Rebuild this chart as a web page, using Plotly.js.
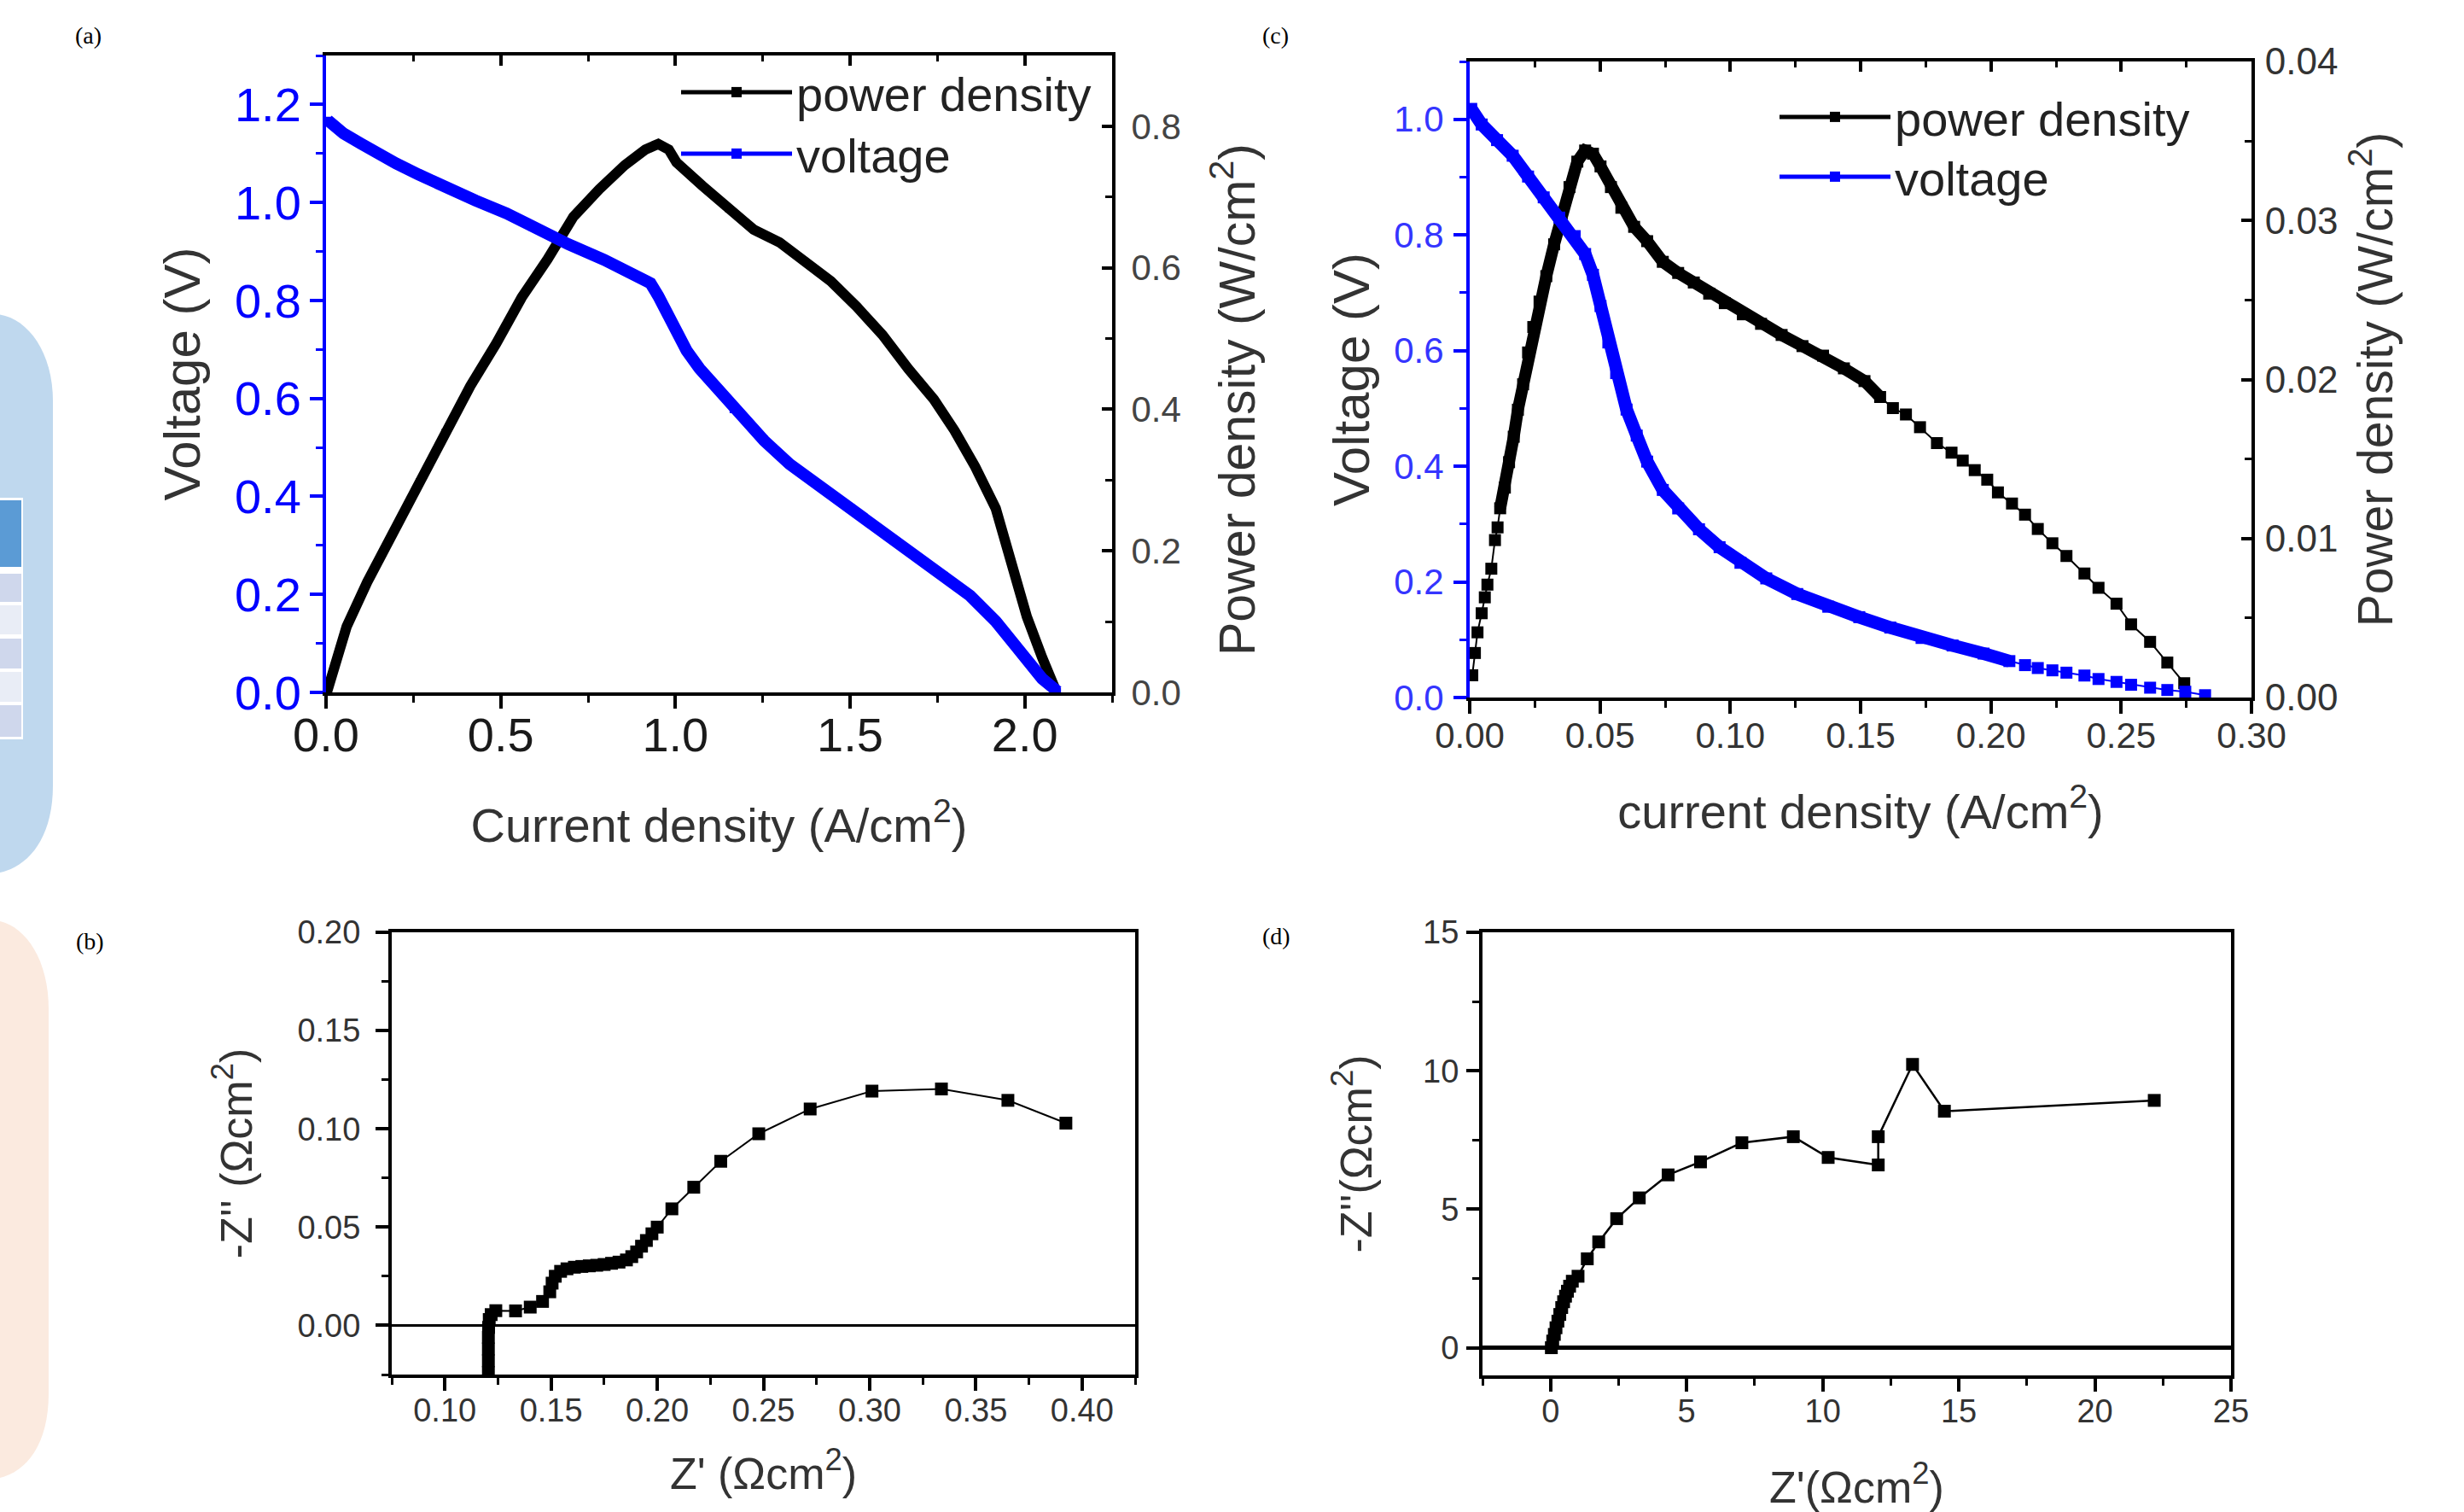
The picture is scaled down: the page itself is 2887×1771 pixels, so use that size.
<!DOCTYPE html>
<html><head><meta charset="utf-8">
<script src="https://cdn.plot.ly/plotly-3.0.1.min.js"></script>
<style>html,body{margin:0;padding:0;background:#fff}#chart{width:2887px;height:1771px}</style>
</head><body><div id="chart"></div>
<script>
// ---------- (a) polarization curve, cell 1 ----------
const aPowX = [0.003, 0.059, 0.118, 0.192, 0.265, 0.339, 0.413, 0.487, 0.560, 0.634, 0.708, 0.782, 0.855, 0.914, 0.951, 0.981, 1.003, 1.077, 1.150, 1.224, 1.298, 1.372, 1.445, 1.519, 1.593, 1.667, 1.740, 1.799, 1.858, 1.917, 1.962, 2.006, 2.050, 2.087];
const aPowY = [0.001, 0.093, 0.156, 0.227, 0.298, 0.368, 0.433, 0.493, 0.558, 0.612, 0.672, 0.711, 0.745, 0.767, 0.775, 0.767, 0.749, 0.716, 0.683, 0.654, 0.636, 0.610, 0.581, 0.545, 0.505, 0.457, 0.414, 0.370, 0.319, 0.260, 0.187, 0.107, 0.049, 0.005];
const aVoltX = [0.005, 0.050, 0.100, 0.147, 0.200, 0.265, 0.339, 0.428, 0.516, 0.590, 0.693, 0.796, 0.885, 0.929, 0.951, 0.973, 1.003, 1.032, 1.069, 1.121, 1.165, 1.254, 1.327, 1.416, 1.504, 1.593, 1.681, 1.770, 1.844, 1.917, 1.991, 2.050, 2.094];
const aVoltY = [1.168, 1.141, 1.120, 1.099, 1.080, 1.057, 1.031, 1.004, 0.978, 0.949, 0.915, 0.883, 0.851, 0.835, 0.809, 0.777, 0.735, 0.698, 0.661, 0.619, 0.577, 0.514, 0.466, 0.419, 0.377, 0.329, 0.282, 0.239, 0.197, 0.145, 0.081, 0.028, 0.002];

// ---------- (c) polarization curve, cell 2 ----------
const cPowX = [0.0010, 0.0020, 0.0030, 0.0046, 0.0058, 0.0068, 0.0083, 0.0097, 0.0107, 0.0117, 0.0135, 0.0151, 0.0169, 0.0185, 0.0205, 0.0224, 0.0244, 0.0268, 0.0294, 0.0324, 0.0353, 0.0383, 0.0413, 0.0443, 0.0473, 0.0502, 0.0542, 0.0582, 0.0631, 0.0681, 0.0741, 0.0800, 0.0860, 0.0919, 0.0979, 0.1048, 0.1118, 0.1197, 0.1277, 0.1356, 0.1436, 0.1515, 0.1575, 0.1624, 0.1674, 0.1728, 0.1793, 0.1849, 0.1892, 0.1938, 0.1986, 0.2027, 0.2081, 0.2131, 0.2180, 0.2236, 0.2290, 0.2359, 0.2413, 0.2482, 0.2538, 0.2611, 0.2677, 0.2742];
const cPowY = [0.0014, 0.0028, 0.0041, 0.0053, 0.0063, 0.0071, 0.0081, 0.0099, 0.0107, 0.0119, 0.0132, 0.0148, 0.0164, 0.0181, 0.0197, 0.0217, 0.0233, 0.0249, 0.0265, 0.0285, 0.0301, 0.0321, 0.0337, 0.0344, 0.0342, 0.0334, 0.0321, 0.0308, 0.0296, 0.0287, 0.0274, 0.0267, 0.0261, 0.0254, 0.0248, 0.0241, 0.0235, 0.0228, 0.0221, 0.0215, 0.0207, 0.0199, 0.0189, 0.0182, 0.0178, 0.0170, 0.0160, 0.0154, 0.0149, 0.0143, 0.0137, 0.0129, 0.0122, 0.0115, 0.0106, 0.0097, 0.0089, 0.0078, 0.0069, 0.0059, 0.0046, 0.0035, 0.0022, 0.0009];
const cVoltX = [0.0006, 0.0046, 0.0105, 0.0165, 0.0224, 0.0284, 0.0344, 0.0403, 0.0443, 0.0473, 0.0502, 0.0532, 0.0562, 0.0602, 0.0641, 0.0681, 0.0741, 0.0800, 0.0880, 0.0959, 0.1039, 0.1138, 0.1257, 0.1376, 0.1495, 0.1614, 0.1734, 0.1853, 0.1972, 0.2071, 0.2131, 0.2180, 0.2236, 0.2290, 0.2359, 0.2413, 0.2482, 0.2538, 0.2611, 0.2677, 0.2746, 0.2822];
const cVoltY = [1.018, 0.991, 0.964, 0.937, 0.901, 0.865, 0.830, 0.798, 0.767, 0.731, 0.677, 0.614, 0.561, 0.498, 0.453, 0.408, 0.359, 0.327, 0.291, 0.260, 0.233, 0.206, 0.179, 0.157, 0.139, 0.121, 0.103, 0.090, 0.076, 0.063, 0.056, 0.051, 0.047, 0.043, 0.038, 0.032, 0.027, 0.022, 0.017, 0.013, 0.010, 0.004];

// ---------- (b) impedance, cell 1 ----------
const bReX = [0.1205, 0.1205, 0.1205, 0.1205, 0.1205, 0.1206, 0.1209, 0.1218, 0.1240, 0.1333, 0.1402, 0.1460, 0.1494, 0.1505, 0.1520, 0.1545, 0.1575, 0.1610, 0.1645, 0.1680, 0.1715, 0.1750, 0.1785, 0.1820, 0.1855, 0.1880, 0.1903, 0.1926, 0.1949, 0.1975, 0.2000, 0.2069, 0.2172, 0.2299, 0.2478, 0.2720, 0.3011, 0.3338, 0.3651, 0.3924];
const bImY = [-0.030, -0.024, -0.018, -0.012, -0.006, -0.001, 0.003, 0.0055, 0.0075, 0.0074, 0.0093, 0.0122, 0.0171, 0.0215, 0.0250, 0.0275, 0.0288, 0.0296, 0.0300, 0.0303, 0.0306, 0.0310, 0.0316, 0.0322, 0.0333, 0.0350, 0.0374, 0.0403, 0.0432, 0.0466, 0.0500, 0.0593, 0.0703, 0.0835, 0.0975, 0.1101, 0.1192, 0.1203, 0.1145, 0.1029];

// ---------- (d) impedance, cell 2 ----------
const dReX = [0.03, 0.08, 0.14, 0.20, 0.27, 0.34, 0.41, 0.48, 0.55, 0.62, 0.70, 0.80, 1.01, 1.35, 1.77, 2.43, 3.26, 4.32, 5.51, 7.03, 8.92, 10.20, 12.04, 12.04, 13.30, 14.47, 22.18];
const dImY = [0.00, 0.24, 0.48, 0.72, 0.96, 1.20, 1.45, 1.66, 1.86, 2.04, 2.22, 2.40, 2.58, 3.21, 3.82, 4.66, 5.41, 6.24, 6.71, 7.40, 7.62, 6.87, 6.60, 7.62, 10.23, 8.54, 8.93];

// ---------- labels ----------
const panelLabels = ['(a)', '(b)', '(c)', '(d)'];
const seriesNames = ['power density', 'voltage'];

// ---------- layout helpers ----------
const W = 2887, H = 1771;
const px = v => v / W, py = v => 1 - v / H;
const FONT = 'Liberation Sans, Arial, sans-serif';
const BLUE = '#0000ff';

function inRange(xs, ys, lo, hi) {
  const X = [], Y = [];
  xs.forEach((v, i) => { if (v >= lo && v <= hi) { X.push(v); Y.push(ys[i]); } });
  return {x: X, y: Y};
}

function ax(o) {
  const base = {
    showgrid: false, zeroline: false, showline: true, linecolor: '#000', linewidth: 4,
    ticks: 'outside', ticklen: 15, tickwidth: 4, tickcolor: '#000',
    tickfont: {family: FONT, size: 56, color: '#1a1a1a'},
    fixedrange: true
  };
  return Object.assign(base, o);
}
function minor(dtick, color, ticks) {
  return {dtick: dtick, ticks: ticks || 'outside', ticklen: 8, tickwidth: 3, tickcolor: color || '#000'};
}
function ttl(text, size, standoff) {
  return {text: text, font: {family: FONT, size: size, color: '#333'}, standoff: standoff};
}
function leg(xLeft, yTop) {
  return {x: px(xLeft), y: py(yTop), xanchor: 'left', yanchor: 'top', bgcolor: 'rgba(0,0,0,0)', borderwidth: 0,
    font: {family: FONT, size: 56, color: '#222'}, itemwidth: 130, itemsizing: 'constant'};
}
// top frame ticks pointing into the plot (mirror of the bottom axis)
function topTicks(over, anchor, range, dtick, mdtick, fmt) {
  return {overlaying: over, anchor: anchor, side: 'top', range: range, dtick: dtick, tickformat: fmt,
    showline: false, showgrid: false, zeroline: false, showticklabels: false,
    ticks: 'inside', ticklen: 12, tickwidth: 4, tickcolor: '#000',
    minor: {dtick: mdtick, ticks: 'inside', ticklen: 7, tickwidth: 3, tickcolor: '#000'}, fixedrange: true};
}

const traces = [];
// (a)
traces.push({x: aPowX, y: aPowY, xaxis: 'x', yaxis: 'y2', mode: 'lines', line: {color: '#000', width: 12},
  showlegend: false, legendgroup: 'ap', hoverinfo: 'skip'});
traces.push({x: aPowX, y: aPowY, xaxis: 'x', yaxis: 'y2', mode: 'lines+markers', name: seriesNames[0],
  line: {color: '#000', width: 3}, marker: {symbol: 'square', size: 7, color: '#000'},
  legend: 'legend', legendgroup: 'ap'});
traces.push({x: aVoltX, y: aVoltY, xaxis: 'x5', yaxis: 'y', mode: 'lines', line: {color: BLUE, width: 14},
  showlegend: false, legendgroup: 'av', hoverinfo: 'skip'});
traces.push({x: aVoltX, y: aVoltY, xaxis: 'x5', yaxis: 'y', mode: 'lines+markers', name: seriesNames[1],
  line: {color: BLUE, width: 3}, marker: {symbol: 'square', size: 8, color: BLUE},
  legend: 'legend2', legendgroup: 'av'});
// (c)
const cPowDense = inRange(cPowX, cPowY, 0.011, 0.158);
const cVoltDense = inRange(cVoltX, cVoltY, 0, 0.2075);
traces.push({x: cPowDense.x, y: cPowDense.y, xaxis: 'x2', yaxis: 'y4', mode: 'lines', line: {color: '#000', width: 14},
  showlegend: false, legendgroup: 'cp', hoverinfo: 'skip'});
traces.push({x: cPowX, y: cPowY, xaxis: 'x2', yaxis: 'y4', mode: 'lines+markers', name: seriesNames[0],
  line: {color: '#000', width: 2}, marker: {symbol: 'square', size: 14, color: '#000'},
  legend: 'legend3', legendgroup: 'cp'});
traces.push({x: cVoltDense.x, y: cVoltDense.y, xaxis: 'x6', yaxis: 'y3', mode: 'lines', line: {color: BLUE, width: 15},
  showlegend: false, legendgroup: 'cv', hoverinfo: 'skip'});
traces.push({x: cVoltX, y: cVoltY, xaxis: 'x6', yaxis: 'y3', mode: 'lines+markers', name: seriesNames[1],
  line: {color: BLUE, width: 2}, marker: {symbol: 'square', size: 14, color: BLUE},
  legend: 'legend4', legendgroup: 'cv'});
// (b)
traces.push({x: bReX, y: bImY, xaxis: 'x3', yaxis: 'y5', mode: 'lines+markers', showlegend: false,
  line: {color: '#000', width: 2}, marker: {symbol: 'square', size: 15, color: '#000'}});
// (d)
traces.push({x: dReX, y: dImY, xaxis: 'x4', yaxis: 'y6', mode: 'lines+markers', showlegend: false,
  line: {color: '#000', width: 2.5}, marker: {symbol: 'square', size: 15, color: '#000'}});

// decorative page fragments at the left edge (parts of the surrounding page)
function pathPx(cmds) {
  return cmds.map(c => typeof c === 'string' ? c : (px(c[0]).toFixed(5) + ',' + py(c[1]).toFixed(5))).join(' ');
}
const shapes = [
  {type: 'path', xref: 'paper', yref: 'paper', layer: 'below', line: {width: 0}, fillcolor: '#bfd8ee',
   path: pathPx(['M', [-5, 368], 'C', [30, 370], [62, 410], [62, 470], 'L', [62, 920], 'C', [62, 985], [30, 1018], [-5, 1023], 'Z'])},
  {type: 'path', xref: 'paper', yref: 'paper', layer: 'below', line: {width: 0}, fillcolor: '#fbeadf',
   path: pathPx(['M', [-5, 1078], 'C', [28, 1082], [57, 1122], [57, 1182], 'L', [57, 1632], 'C', [57, 1695], [28, 1727], [-5, 1732], 'Z'])}
];
const rows = [[583, 866, '#ffffff'], [586, 664, '#5b9bd5'], [672, 705, '#cfd7ec'], [709, 743, '#e9edf6'], [748, 783, '#cfd7ec'], [787, 822, '#e9edf6'], [826, 863, '#cfd7ec']];
rows.forEach((r, i) => shapes.push({type: 'rect', xref: 'paper', yref: 'paper', layer: 'below', line: {width: 0},
  fillcolor: r[2], x0: px(-2), x1: px(i === 0 ? 27 : 25), y0: py(r[1]), y1: py(r[0])}));

const labelPos = [[86, 42], [87, 1102], [1477, 42], [1477, 1096]];
const annotations = panelLabels.map((t, i) => ({
  text: t, xref: 'paper', yref: 'paper', x: px(labelPos[i][0]), y: py(labelPos[i][1]),
  xanchor: 'left', yanchor: 'middle', showarrow: false,
  font: {family: 'Liberation Serif, Times New Roman, serif', size: 28, color: '#000'}
}));
// right-hand title of panel (a), placed slightly below the axis centre as in the original
annotations.push({text: 'Power density (W/cm<sup>2</sup>)', xref: 'paper', yref: 'paper',
  x: px(1446), y: py(468), xanchor: 'center', yanchor: 'middle', textangle: -90, showarrow: false,
  font: {family: FONT, size: 59, color: '#333'}});

const layout = {
  width: W, height: H, margin: {l: 0, r: 0, t: 0, b: 0},
  paper_bgcolor: '#fff', plot_bgcolor: 'rgba(0,0,0,0)',
  font: {family: FONT, color: '#222'},
  showlegend: true,
  // (a)
  xaxis: ax({domain: [px(382), px(1303)], anchor: 'y', range: [0, 2.25], dtick: 0.5, tickformat: '.1f',
    mirror: true, minor: minor(0.25), ticklabelstandoff: -17,
    title: ttl('Current density (A/cm<sup>2</sup>)', 56, 57)}),
  yaxis: ax({domain: [py(811), py(65)], anchor: 'x', range: [0, 1.3], dtick: 0.2, tickformat: '.1f',
    linecolor: BLUE, tickcolor: BLUE, minor: minor(0.1, BLUE), ticklabelstandoff: -1,
    tickfont: {family: FONT, size: 56, color: BLUE},
    title: ttl('Voltage (V)', 60, 22)}),
  yaxis2: ax({overlaying: 'y', side: 'right', anchor: 'x', range: [0, 0.9], dtick: 0.2, tickformat: '.1f',
    ticks: 'inside', ticklen: 12, minor: minor(0.1, '#000', 'inside'), ticklabelstandoff: 10,
    tickfont: {family: FONT, size: 42, color: '#444'}}),
  xaxis5: topTicks('x', 'y', [0, 2.25], 0.5, 0.25, '.1f'),
  // (c)
  xaxis2: ax({domain: [px(1722), px(2638)], anchor: 'y3', range: [0, 0.3], dtick: 0.05, tickformat: '.2f',
    mirror: true, minor: minor(0.025), ticklabelstandoff: -10,
    tickfont: {family: FONT, size: 42, color: '#333'},
    title: ttl('current density (A/cm<sup>2</sup>)', 56, 47)}),
  yaxis3: ax({domain: [py(817), py(72)], anchor: 'x2', range: [0, 1.1], dtick: 0.2, tickformat: '.1f',
    linecolor: BLUE, tickcolor: BLUE, minor: minor(0.1, BLUE), ticklabelstandoff: 3,
    tickfont: {family: FONT, size: 42, color: '#3535ff'},
    title: ttl('Voltage (V)', 60, 10)}),
  yaxis4: ax({overlaying: 'y3', side: 'right', anchor: 'x2', range: [0, 0.04], dtick: 0.01, tickformat: '.2f',
    ticks: 'inside', ticklen: 12, minor: minor(0.005, '#000', 'inside'), ticklabelstandoff: 3,
    tickfont: {family: FONT, size: 44, color: '#333'},
    title: ttl('Power density (W/cm<sup>2</sup>)', 57, 26)}),
  xaxis6: topTicks('x2', 'y3', [0, 0.3], 0.05, 0.025, '.2f'),
  // (b)
  xaxis3: ax({domain: [px(459), px(1330)], anchor: 'y5', range: [0.075, 0.425], dtick: 0.05, tickformat: '.2f',
    mirror: true, minor: minor(0.025), ticklabelstandoff: -10,
    tickfont: {family: FONT, size: 38, color: '#333'},
    title: ttl("Z' (Ωcm<sup>2</sup>)", 52, 37)}),
  yaxis5: ax({domain: [py(1610), py(1092)], anchor: 'x3', range: [-0.025, 0.2], dtick: 0.05, tickformat: '.2f',
    mirror: true, minor: minor(0.025), ticklabelstandoff: 10,
    zeroline: true, zerolinecolor: '#000', zerolinewidth: 3,
    tickfont: {family: FONT, size: 38, color: '#333'},
    title: ttl("-Z'' (Ωcm<sup>2</sup>)", 52, 37)}),
  // (d)
  xaxis4: ax({domain: [px(1737), px(2614)], anchor: 'y6', range: [-2.5, 25], dtick: 5,
    mirror: true, minor: minor(2.5), ticklabelstandoff: -10,
    tickfont: {family: FONT, size: 38, color: '#333'},
    title: ttl("Z'(Ωcm<sup>2</sup>)", 52, 52)}),
  yaxis6: ax({domain: [py(1611), py(1092)], anchor: 'x4', range: [-1, 15], dtick: 5,
    mirror: true, minor: minor(2.5), ticklabelstandoff: 1,
    zeroline: true, zerolinecolor: '#000', zerolinewidth: 5,
    tickfont: {family: FONT, size: 38, color: '#333'},
    title: ttl("-Z''(Ωcm<sup>2</sup>)", 52, 44)}),
  legend: leg(793, 65),
  legend2: leg(793, 137),
  legend3: leg(2080, 94),
  legend4: leg(2080, 164),
  shapes: shapes,
  annotations: annotations
};

Plotly.newPlot('chart', traces, layout, {displayModeBar: false, staticPlot: true});
</script></body></html>
